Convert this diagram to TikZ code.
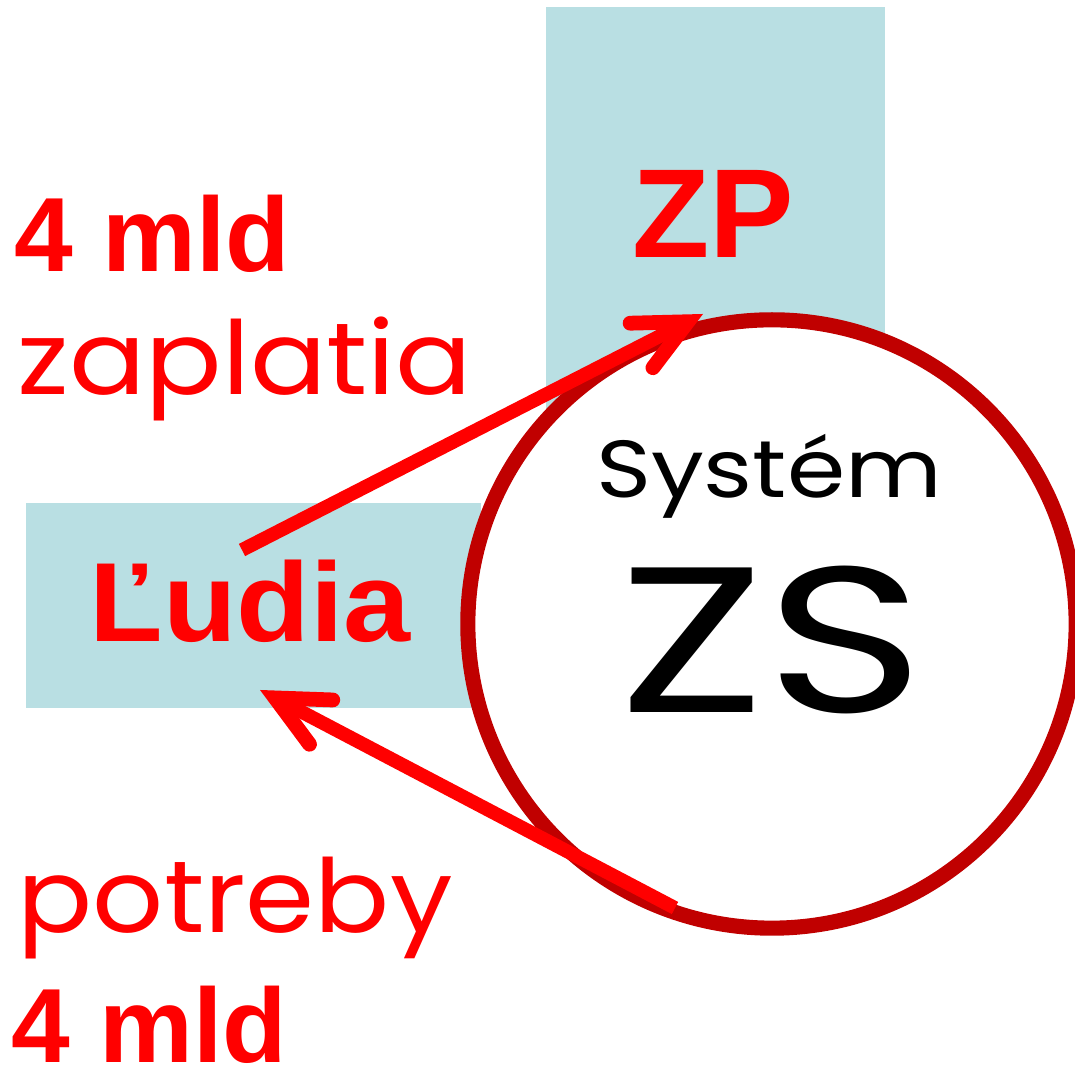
\documentclass[tikz,border=0pt]{standalone}
\usepackage{fontspec}
\setmainfont{Liberation Sans}
\newfontfamily\geofont{Poppins}
\usetikzlibrary{arrows.meta}
\definecolor{boxblue}{RGB}{185,223,227}
\definecolor{ringred}{RGB}{192,0,0}
\definecolor{textred}{RGB}{255,0,0}

\begin{document}
\begin{tikzpicture}[x=0.01cm, y=-0.01cm,
    >={Straight Barb[length=5.2mm, width=5.0mm, line width=4.2pt, line cap=round, line join=miter]},
    box/.style={fill=boxblue, inner sep=0pt, anchor=north west},
    flow/.style={->, textred, line width=3.9pt},
    boldred/.style={textred, inner sep=0pt, font=\bfseries\fontsize{30}{30}\selectfont},
    thinred/.style={textred, inner sep=0pt, font=\geofont\fontsize{29}{29}\selectfont}]
  \useasboundingbox (0,0) rectangle (1075,1068);
  % boxes
  \node[box, minimum width=3.39cm, minimum height=4.74cm] (zpbox) at (545,6) {};
  \node[box, minimum width=4.55cm, minimum height=2.05cm] (ludiabox) at (25,502) {};
  % system circle
  \node[circle, draw=ringred, fill=white, line width=4.3pt, minimum size=6.08cm, inner sep=0pt] (zs) at (772,624) {};
  \node[inner sep=0pt, anchor=base, xscale=1.16, font=\geofont\fontsize{23}{23}\selectfont] (system) at (769,498) {Systém};
  \node[inner sep=0pt, anchor=base, xscale=1.31, font=\geofont\fontsize{59}{59}\selectfont] (zslabel) at (772,713) {ZS};
  % labels
  \node[boldred, anchor=base, font=\bfseries\fontsize{36}{36}\selectfont] (zp) at (713,258) {ZP};
  \node[boldred, anchor=base, xscale=1.07, font=\bfseries\fontsize{32}{32}\selectfont] (ludia) at (250,642) {Ľudia};
  \node[boldred, anchor=base west] (paysum) at (14,272) {4 mld};
  \node[thinred, anchor=base west, xscale=1.11] (pay) at (17,395) {zaplatia};
  \node[thinred, anchor=base west, xscale=1.09] (needs) at (17,933) {potreby};
  \node[boldred, anchor=base west] (needsum) at (11,1063) {4 mld};
  % flows
  \coordinate (paystart) at (242,550);
  \coordinate (payend) at (703,314);
  \coordinate (needstart) at (675,908);
  \coordinate (needend) at (260,690);
  \draw[flow] (paystart) -- (payend);
  \draw[flow] (needstart) -- (needend);
\end{tikzpicture}
\end{document}
